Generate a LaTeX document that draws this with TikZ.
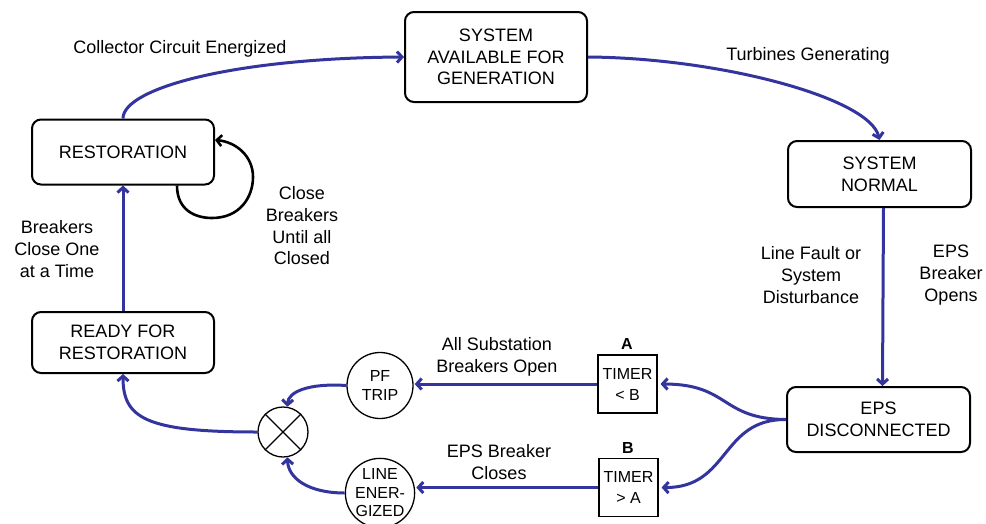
\documentclass[tikz,border=0pt]{standalone}
\usepackage{fontspec}
\setmainfont{Liberation Sans}
\usetikzlibrary{arrows.meta}
\definecolor{eblue}{RGB}{52,52,158}
\begin{document}
\begin{tikzpicture}[x=1pt,y=-1pt,
  every node/.style={font=\fontsize{18}{21.7}\selectfont, inner sep=0pt},
  state/.style={draw, line width=2pt, rounded corners=9pt, align=center, minimum width=182pt, minimum height=65pt},
  timer/.style={draw, line width=1.1pt, align=center, minimum width=59pt, minimum height=58pt, font=\fontsize{16}{21}\selectfont},
  circ/.style={draw, circle, line width=1.3pt, align=center, minimum size=66pt, font=\fontsize{16}{18.5}\selectfont},
  tlabel/.style={font=\fontsize{16}{18}\selectfont\bfseries},
  lbl/.style={align=center},
  flow/.style={draw=eblue, line width=3pt, -{Straight Barb[length=5pt,width=11pt]}},
  loopflow/.style={draw=black, line width=2.6pt, -{Straight Barb[length=5pt,width=11pt]}}
]
\useasboundingbox (0,0) rectangle (986,523);

% state boxes
\node[state, minimum height=90pt] (avail) at (496,57) {SYSTEM\\AVAILABLE FOR\\GENERATION};
\node[state] (rest) at (123,152) {RESTORATION};
\node[state, minimum width=183pt, minimum height=66pt] (normal) at (879.5,174) {SYSTEM\\NORMAL};
\node[state, minimum width=183pt] (disc) at (878.5,419.5) {EPS\\DISCONNECTED};
\node[state, minimum height=61pt] (ready) at (123,342.5) {READY FOR\\RESTORATION};

% timers
\node[timer] (ta) at (627.5,384) {TIMER\\< B};
\node[timer] (tb) at (628.5,487.5) {TIMER\\> A};
\node[tlabel] (la) at (627,344) {A};
\node[tlabel] (lb) at (628,448) {B};

% circles
\node[circ] (pf) at (380,385.5) {PF\\TRIP};
\node[circ] (le) at (380,493) {LINE\\ENER-\\GIZED};
\node[draw, circle, line width=1.3pt, minimum size=50pt] (xc) at (283,432) {};
\draw[line width=1.3pt] (xc.45) -- (xc.225);
\draw[line width=1.3pt] (xc.135) -- (xc.-45);

% labels
\node[lbl] (l1) at (180,49) {Collector Circuit Energized};
\node[lbl] (l2) at (808,56) {Turbines Generating};
\node[lbl] (l3) at (811,275) {Line Fault or\\System\\Disturbance};
\node[lbl] (l4) at (951,275) {EPS\\Breaker\\Opens};
\node[lbl] (l5) at (497,357) {All Substation\\Breakers Open};
\node[lbl] (l6) at (499,462) {EPS Breaker\\Closes};
\node[lbl] (l7) at (57,249) {Breakers\\Close One\\at a Time};
\node[lbl] (l8) at (302,226) {Close\\Breakers\\Until all\\Closed};

% connectors
\draw[flow] (rest.north) .. controls (123,88) and (235,58) .. (avail.west);
\draw[flow] (avail.east) .. controls (720,58) and (870,98) .. (normal.north);
\draw[flow] ([xshift=4pt]normal.south) -- ([xshift=4pt]disc.north);
\draw[flow, shorten >=3pt] (disc.west) .. controls (720,419) and (730,384) .. (ta.east);
\draw[flow, shorten >=3pt] (disc.west) .. controls (720,419) and (730,488) .. (tb.east);
\draw[flow, shorten >=1pt] (ta.west) -- (ta.west -| pf.east);
\draw[flow, shorten >=1pt] (tb.west) -- (tb.west -| le.east);
\draw[flow] (pf.west) .. controls (308,383) and (288,392) .. (xc.80);
\draw[flow] (le.west) .. controls (308,493) and (288,478) .. (xc.-80);
\draw[flow] (xc.west) .. controls (145,432) and (123,418) .. (ready.south);
\draw[flow] (ready.north) -- (rest.south);
\draw[loopflow] ([xshift=54pt]rest.south) .. controls (177,210) and (195,218) .. (212,218)
  .. controls (240,218) and (253,197) .. (253,177)
  .. controls (253,156) and (236,142) .. ([yshift=12pt]rest.east);
\end{tikzpicture}
\end{document}
